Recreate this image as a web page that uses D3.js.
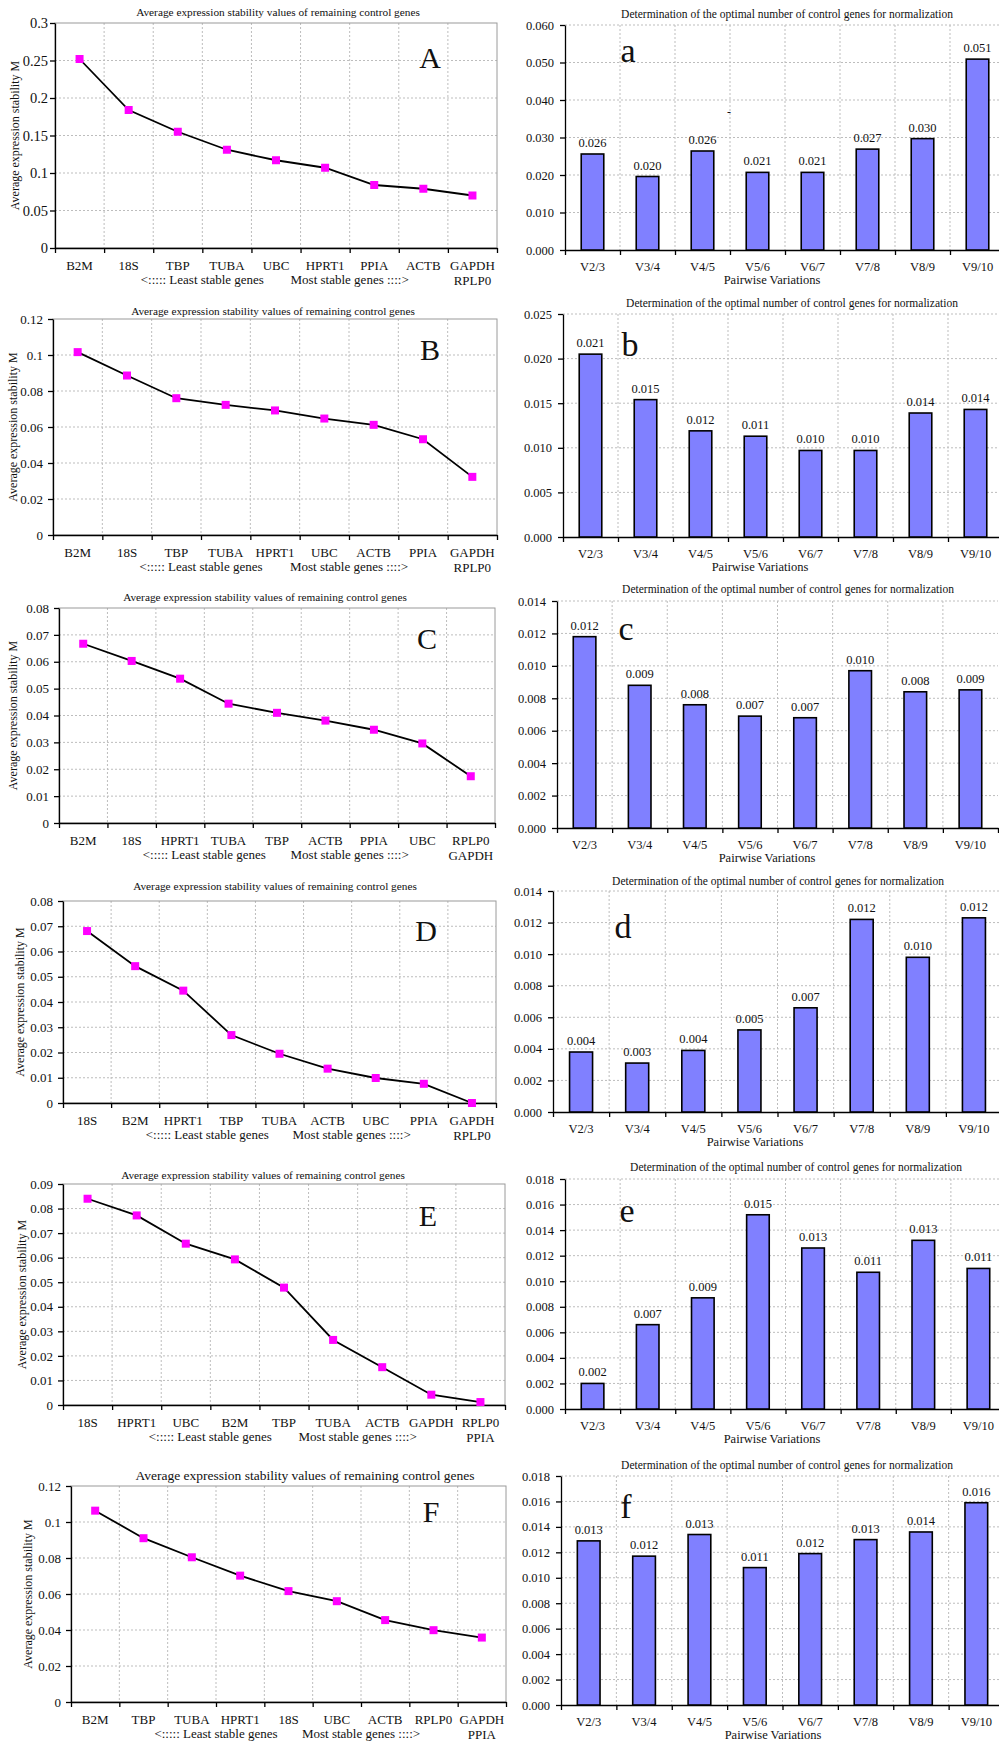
<!DOCTYPE html>
<html>
<head>
<meta charset="utf-8">
<script src="https://cdn.jsdelivr.net/npm/d3@7"></script>
<style>
  body { margin: 0; background: #fff; }
  svg text { font-family: "Liberation Serif", "Times New Roman", serif; fill: #111; }
</style>
</head>
<body>
<svg id="chart" width="999" height="1741"></svg>
<script>
// ---- data: average expression stability M (left column) ----
const genesA = ["B2M","18S","TBP","TUBA","UBC","HPRT1","PPIA","ACTB","GAPDH\nRPLP0"];
const valuesA = [0.252,0.184,0.155,0.131,0.117,0.107,0.084,0.079,0.070];
const ticksA = ["0","0.05","0.1","0.15","0.2","0.25","0.3"];

const genesB = ["B2M","18S","TBP","TUBA","HPRT1","UBC","ACTB","PPIA","GAPDH\nRPLP0"];
const valuesB = [0.1016,0.0886,0.0760,0.0723,0.0692,0.0647,0.0612,0.0532,0.0323];
const ticksB = ["0","0.02","0.04","0.06","0.08","0.1","0.12"];

const genesC = ["B2M","18S","HPRT1","TUBA","TBP","ACTB","PPIA","UBC","RPLP0\nGAPDH"];
const valuesC = [0.0667,0.0603,0.0537,0.0444,0.0410,0.0381,0.0347,0.0296,0.0174];
const ticksC = ["0","0.01","0.02","0.03","0.04","0.05","0.06","0.07","0.08"];

const genesD = ["18S","B2M","HPRT1","TBP","TUBA","ACTB","UBC","PPIA","GAPDH\nRPLP0"];
const valuesD = [0.0681,0.0542,0.0445,0.0269,0.0195,0.0136,0.0099,0.0076,0.0000];
const ticksD = ["0","0.01","0.02","0.03","0.04","0.05","0.06","0.07","0.08"];

const genesE = ["18S","HPRT1","UBC","B2M","TBP","TUBA","ACTB","GAPDH","RPLP0\nPPIA"];
const valuesE = [0.0840,0.0772,0.0657,0.0593,0.0478,0.0265,0.0154,0.0042,0.0012];
const ticksE = ["0","0.01","0.02","0.03","0.04","0.05","0.06","0.07","0.08","0.09"];

const genesF = ["B2M","TBP","TUBA","HPRT1","18S","UBC","ACTB","RPLP0","GAPDH\nPPIA"];
const valuesF = [0.1063,0.0910,0.0804,0.0702,0.0616,0.0560,0.0455,0.0399,0.0358];
const ticksF = ["0","0.02","0.04","0.06","0.08","0.1","0.12"];

// ---- data: pairwise variations (right column) ----
const pairs = ["V2/3","V3/4","V4/5","V5/6","V6/7","V7/8","V8/9","V9/10"];
const pvA = [0.0256,0.0196,0.0264,0.0207,0.0207,0.0269,0.0297,0.0509];
const pvB = [0.0205,0.0154,0.0119,0.0113,0.0097,0.0097,0.0139,0.0143];
const pvC = [0.0118,0.0088,0.0076,0.0069,0.0068,0.0097,0.0084,0.00852];
const pvD = [0.0038,0.0031,0.0039,0.0052,0.0066,0.0122,0.0098,0.0123];
const pvE = [0.0020,0.0066,0.0087,0.0152,0.0126,0.0107,0.0132,0.0110];
const pvF = [0.0129,0.0117,0.0134,0.0108,0.0119,0.0130,0.0136,0.0159];
const pvTicksA = ["0.000","0.010","0.020","0.030","0.040","0.050","0.060"];
const pvTicksB = ["0.000","0.005","0.010","0.015","0.020","0.025"];
const pvTicksC = ["0.000","0.002","0.004","0.006","0.008","0.010","0.012","0.014"];
const pvTicksE = ["0.000","0.002","0.004","0.006","0.008","0.010","0.012","0.014","0.016","0.018"];

const leftTitle = "Average expression stability values of remaining control genes";
const rightTitle = "Determination of the optimal number of control genes for normalization";

const svg = d3.select("#chart");
const gridCol = "#bdbdbd";

function linePanel(p) {
  const g = svg.append("g");
  const n = p.genes.length;
  const nums = p.ticks.map(Number);
  const x = d3.scaleBand().domain(d3.range(n)).range([p.x0, p.x1]);
  const xb = d3.scaleLinear().domain([0, n]).range([p.x0, p.x1]);
  const y = d3.scaleLinear().domain([0, nums[nums.length-1]]).range([p.yBot, p.yTop]);

  // grid
  g.append("g").selectAll("line").data(nums.slice(1, -1)).join("line")
    .attr("x1", p.x0).attr("x2", p.x1).attr("y1", d=>y(d)).attr("y2", d=>y(d))
    .attr("stroke", gridCol).attr("stroke-dasharray", "2,2");
  g.append("g").selectAll("line").data(d3.range(1, n)).join("line")
    .attr("x1", d=>xb(d)).attr("x2", d=>xb(d)).attr("y1", p.yTop).attr("y2", p.yBot)
    .attr("stroke", gridCol).attr("stroke-dasharray", "2,2");
  g.append("rect").attr("x", p.x0).attr("y", p.yTop)
    .attr("width", p.x1-p.x0).attr("height", p.yBot-p.yTop)
    .attr("fill", "none").attr("stroke", "#9a9a9a");

  // axes
  g.append("g").attr("transform", `translate(${p.x0},0)`)
    .call(d3.axisLeft(y).tickValues(nums).tickFormat((d,i)=>p.ticks[i]).tickSize(5)
      .tickPadding(p.tickPad != null ? p.tickPad : 5).tickSizeOuter(0))
    .call(a=>a.selectAll("text").attr("font-size", p.tickSize || 13)
      .style("font-family", "Liberation Serif"));
  g.append("g").attr("transform", `translate(0,${p.yBot})`)
    .call(d3.axisBottom(xb).tickValues(d3.range(n+1)).tickFormat("").tickSize(5).tickSizeOuter(0));
  g.selectAll(".domain, .tick line").attr("stroke", "#000").attr("stroke-width", 1.3);

  // category labels
  const lab = g.append("g").selectAll("text").data(p.genes).join("text")
    .attr("text-anchor", "middle").attr("font-size", 13)
    .attr("fill", d=>d==="HPRT1" ? "#993366" : "#111");
  lab.each(function(d, i) {
    d.split("\n").forEach((s, k) => {
      d3.select(this).append("tspan")
        .attr("x", x(i) + x.bandwidth()/2).attr("y", p.yBot + 22 + k*15).text(s);
    });
  });
  g.append("text").attr("x", xb(3)).attr("y", p.yBot + 36).attr("text-anchor", "middle")
    .attr("font-size", 13).text("<:::::  Least stable genes");
  g.append("text").attr("x", xb(6)).attr("y", p.yBot + 36).attr("text-anchor", "middle")
    .attr("font-size", 13).text("Most stable genes ::::>");

  // titles
  g.append("text").attr("x", p.titleX).attr("y", p.titleY + 4).attr("text-anchor", "middle")
    .attr("font-size", p.titleSize || 11.3).text(leftTitle);
  g.append("text").attr("transform", `translate(${p.ylabX},${(p.yTop+p.yBot)/2}) rotate(-90)`)
    .attr("text-anchor", "middle").attr("dy", "0.35em").attr("font-size", 12)
    .text("Average expression stability M");
  g.append("text").attr("x", p.lx).attr("y", p.ly).attr("text-anchor", "middle")
    .attr("font-size", 30).text(p.letter);

  // line + markers
  const line = d3.line().x((d,i)=>x(i)+x.bandwidth()/2).y(d=>y(d));
  g.append("path").datum(p.values).attr("d", line)
    .attr("fill", "none").attr("stroke", "#000").attr("stroke-width", 1.8);
  g.append("g").selectAll("rect").data(p.values).join("rect")
    .attr("x", (d,i)=>x(i)+x.bandwidth()/2-4).attr("y", d=>y(d)-4)
    .attr("width", 8).attr("height", 8).attr("fill", "#ff00ff");
}

function barPanel(p) {
  const g = svg.append("g");
  const n = pairs.length;
  const nums = p.ticks.map(Number);
  const x = d3.scaleBand().domain(pairs).range([p.x0, p.x1]);
  const xb = d3.scaleLinear().domain([0, n]).range([p.x0, p.x1]);
  const y = d3.scaleLinear().domain([0, nums[nums.length-1]]).range([p.yBot, p.yTop]);
  const bw = x.bandwidth()*0.41;

  g.append("g").selectAll("line").data(nums.slice(1)).join("line")
    .attr("x1", p.x0).attr("x2", p.x1).attr("y1", d=>y(d)).attr("y2", d=>y(d))
    .attr("stroke", gridCol).attr("stroke-dasharray", "2,2");
  g.append("g").selectAll("line").data(d3.range(1, n)).join("line")
    .attr("x1", d=>xb(d)).attr("x2", d=>xb(d)).attr("y1", p.yTop).attr("y2", p.yBot)
    .attr("stroke", gridCol).attr("stroke-dasharray", "2,2");

  g.append("g").attr("transform", `translate(${p.x0},0)`)
    .call(d3.axisLeft(y).tickValues(nums).tickFormat((d,i)=>p.ticks[i]).tickSize(5).tickPadding(6).tickSizeOuter(0))
    .call(a=>a.selectAll("text").attr("font-size", 12.5).style("font-family", "Liberation Serif"));
  g.append("g").attr("transform", `translate(0,${p.yBot})`)
    .call(d3.axisBottom(xb).tickValues(d3.range(n+1)).tickFormat("").tickSize(5).tickSizeOuter(0));
  g.selectAll(".domain, .tick line").attr("stroke", "#000").attr("stroke-width", 1.3);

  g.append("g").selectAll("rect").data(p.values).join("rect")
    .attr("x", (d,i)=>x(pairs[i]) + x.bandwidth()/2 - bw/2).attr("y", d=>y(d))
    .attr("width", bw).attr("height", d=>p.yBot - y(d))
    .attr("fill", "#8080ff").attr("stroke", "#000").attr("stroke-width", 1.6);
  g.append("g").selectAll("text").data(p.values).join("text")
    .attr("x", (d,i)=>x(pairs[i]) + x.bandwidth()/2).attr("y", d=>y(d)-7)
    .attr("text-anchor", "middle").attr("font-size", 12.5).text(d3.format(".3f"));

  g.append("g").selectAll("text").data(pairs).join("text")
    .attr("x", d=>x(d)+x.bandwidth()/2).attr("y", p.yBot + 21)
    .attr("text-anchor", "middle").attr("font-size", 12.5).text(d=>d);
  g.append("text").attr("x", p.pvX).attr("y", p.yBot + 34).attr("text-anchor", "middle")
    .attr("font-size", 12.5).text("Pairwise Variations");

  g.append("text").attr("x", p.titleX).attr("y", p.titleY + 4).attr("text-anchor", "middle")
    .attr("font-size", 11.5).text(rightTitle);
  g.append("text").attr("x", p.lx).attr("y", p.ly).attr("text-anchor", "middle")
    .attr("font-size", 34).text(p.letter);
}

linePanel({genes: genesA, values: valuesA, ticks: ticksA, tickSize: 14.5, tickPad: 2, letter: "A",
  x0: 55, x1: 497, yTop: 23, yBot: 248, titleX: 278, titleY: 12, ylabX: 15, lx: 430, ly: 68});
linePanel({genes: genesB, values: valuesB, ticks: ticksB, letter: "B",
  x0: 53, x1: 497, yTop: 319, yBot: 535, titleX: 273, titleY: 311, ylabX: 13, lx: 430, ly: 360});
linePanel({genes: genesC, values: valuesC, ticks: ticksC, letter: "C",
  x0: 59, x1: 495, yTop: 608, yBot: 823, titleX: 265, titleY: 597, ylabX: 13, lx: 427, ly: 649});
linePanel({genes: genesD, values: valuesD, ticks: ticksD, letter: "D",
  x0: 63, x1: 496, yTop: 901, yBot: 1103, titleX: 275, titleY: 886, ylabX: 20, lx: 426, ly: 941});
linePanel({genes: genesE, values: valuesE, ticks: ticksE, letter: "E",
  x0: 63, x1: 505, yTop: 1184, yBot: 1405, titleX: 263, titleY: 1175, ylabX: 22, lx: 428, ly: 1226});
linePanel({genes: genesF, values: valuesF, ticks: ticksF, letter: "F", titleSize: 13.5,
  x0: 71, x1: 506, yTop: 1486, yBot: 1702, titleX: 305, titleY: 1476, ylabX: 28, lx: 431, ly: 1522});

barPanel({values: pvA, ticks: pvTicksA, letter: "a",
  x0: 565, x1: 1005, yTop: 25, yBot: 250, titleX: 787, titleY: 14, pvX: 772, lx: 628, ly: 62});
barPanel({values: pvB, ticks: pvTicksB, letter: "b",
  x0: 563, x1: 1003, yTop: 314, yBot: 537, titleX: 792, titleY: 303, pvX: 760, lx: 630, ly: 356});
barPanel({values: pvC, ticks: pvTicksC, letter: "c",
  x0: 557, x1: 998, yTop: 601, yBot: 828, titleX: 788, titleY: 589, pvX: 767, lx: 626, ly: 640});
barPanel({values: pvD, ticks: pvTicksC, letter: "d",
  x0: 553, x1: 1002, yTop: 891, yBot: 1112, titleX: 778, titleY: 881, pvX: 755, lx: 623, ly: 938});
barPanel({values: pvE, ticks: pvTicksE, letter: "e",
  x0: 565, x1: 1006, yTop: 1179, yBot: 1409, titleX: 796, titleY: 1167, pvX: 772, lx: 627, ly: 1222});
barPanel({values: pvF, ticks: pvTicksE, letter: "f",
  x0: 561, x1: 1004, yTop: 1476, yBot: 1705, titleX: 787, titleY: 1465, pvX: 773, lx: 626, ly: 1518});

// small stray dash visible in panel a
svg.append("text").attr("x", 729).attr("y", 116).attr("text-anchor", "middle")
  .attr("font-size", 12).text("-");
</script>
</body>
</html>
